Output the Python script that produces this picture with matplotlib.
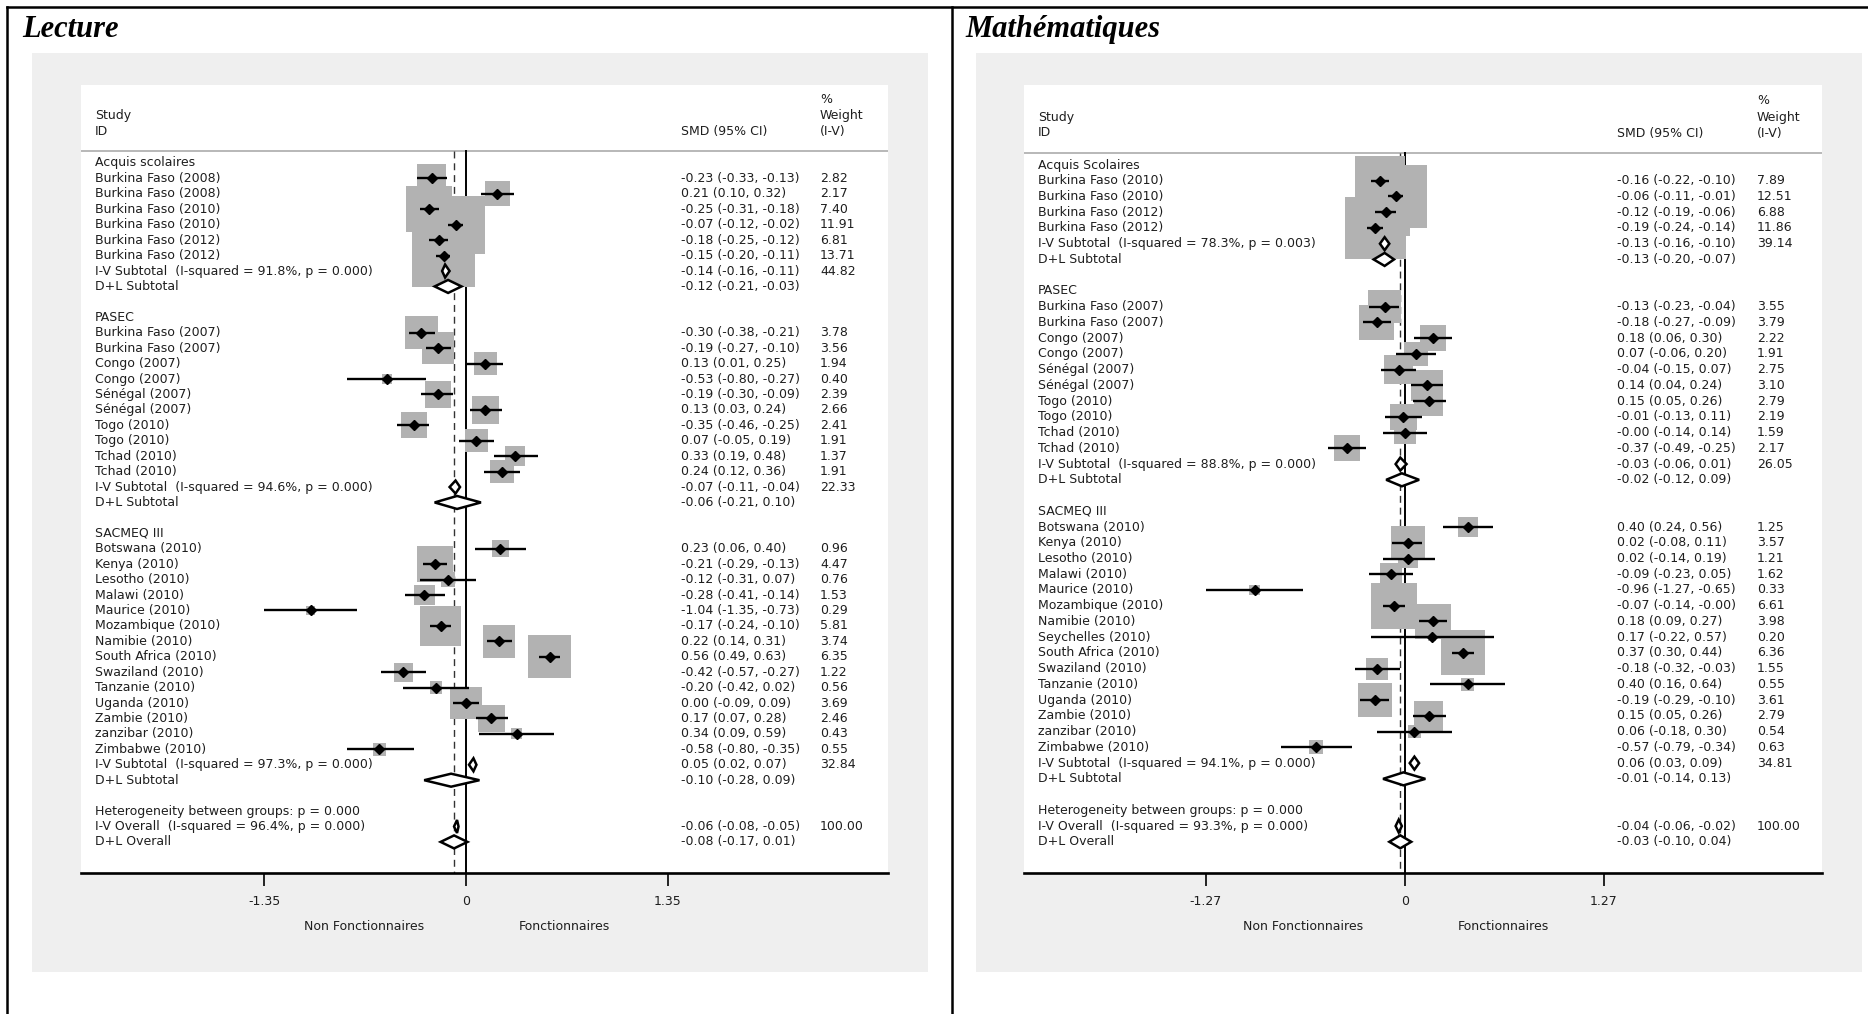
import matplotlib
matplotlib.use("Agg")
import matplotlib.pyplot as plt
from matplotlib.lines import Line2D
from matplotlib.patches import Rectangle, Polygon
from matplotlib.transforms import blended_transform_factory

W, H = 1868, 1014

# ---------------------------------------------------------------- Lecture data
LEC_GROUPS = ["Acquis scolaires", "PASEC", "SACMEQ III"]
LEC_STUDIES = [
    "Burkina Faso (2008)", "Burkina Faso (2008)", "Burkina Faso (2010)",
    "Burkina Faso (2010)", "Burkina Faso (2012)", "Burkina Faso (2012)",
    "Burkina Faso (2007)", "Burkina Faso (2007)", "Congo (2007)", "Congo (2007)",
    "Sénégal (2007)", "Sénégal (2007)", "Togo (2010)", "Togo (2010)",
    "Tchad (2010)", "Tchad (2010)",
    "Botswana (2010)", "Kenya (2010)", "Lesotho (2010)", "Malawi (2010)",
    "Maurice (2010)", "Mozambique (2010)", "Namibie (2010)", "South Africa (2010)",
    "Swaziland (2010)", "Tanzanie (2010)", "Uganda (2010)", "Zambie (2010)",
    "zanzibar (2010)", "Zimbabwe (2010)",
]
LEC_GROUP_OF = [0] * 6 + [1] * 10 + [2] * 14
LEC_EST = [-0.23, 0.21, -0.25, -0.07, -0.18, -0.15,
           -0.30, -0.19, 0.13, -0.53, -0.19, 0.13, -0.35, 0.07, 0.33, 0.24,
           0.23, -0.21, -0.12, -0.28, -1.04, -0.17, 0.22, 0.56, -0.42, -0.20,
           0.00, 0.17, 0.34, -0.58]
LEC_LO = [-0.33, 0.10, -0.31, -0.12, -0.25, -0.20,
          -0.38, -0.27, 0.01, -0.80, -0.30, 0.03, -0.46, -0.05, 0.19, 0.12,
          0.06, -0.29, -0.31, -0.41, -1.35, -0.24, 0.14, 0.49, -0.57, -0.42,
          -0.09, 0.07, 0.09, -0.80]
LEC_HI = [-0.13, 0.32, -0.18, -0.02, -0.12, -0.11,
          -0.21, -0.10, 0.25, -0.27, -0.09, 0.24, -0.25, 0.19, 0.48, 0.36,
          0.40, -0.13, 0.07, -0.14, -0.73, -0.10, 0.31, 0.63, -0.27, 0.02,
          0.09, 0.28, 0.59, -0.35]
LEC_W = [2.82, 2.17, 7.40, 11.91, 6.81, 13.71,
         3.78, 3.56, 1.94, 0.40, 2.39, 2.66, 2.41, 1.91, 1.37, 1.91,
         0.96, 4.47, 0.76, 1.53, 0.29, 5.81, 3.74, 6.35, 1.22, 0.56,
         3.69, 2.46, 0.43, 0.55]
LEC_IV_EST = [-0.14, -0.07, 0.05]
LEC_IV_LO = [-0.16, -0.11, 0.02]
LEC_IV_HI = [-0.11, -0.04, 0.07]
LEC_IV_W = [44.82, 22.33, 32.84]
LEC_ISQ = [91.8, 94.6, 97.3]
LEC_P = [0.000, 0.000, 0.000]
LEC_DL_EST = [-0.12, -0.06, -0.10]
LEC_DL_LO = [-0.21, -0.21, -0.28]
LEC_DL_HI = [-0.03, 0.10, 0.09]
LEC_HET_P = 0.000
LEC_OV_IV = [-0.06, -0.08, -0.05]
LEC_OV_W = 100.00
LEC_OV_ISQ = 96.4
LEC_OV_P = 0.000
LEC_OV_DL = [-0.08, -0.17, 0.01]
LEC_TICKS = [-1.35, 0, 1.35]
LEC_TICK_LABELS = ["-1.35", "0", "1.35"]

# ----------------------------------------------------------- Mathématiques data
MAT_GROUPS = ["Acquis Scolaires", "PASEC", "SACMEQ III"]
MAT_STUDIES = [
    "Burkina Faso (2010)", "Burkina Faso (2010)", "Burkina Faso (2012)",
    "Burkina Faso (2012)",
    "Burkina Faso (2007)", "Burkina Faso (2007)", "Congo (2007)", "Congo (2007)",
    "Sénégal (2007)", "Sénégal (2007)", "Togo (2010)", "Togo (2010)",
    "Tchad (2010)", "Tchad (2010)",
    "Botswana (2010)", "Kenya (2010)", "Lesotho (2010)", "Malawi (2010)",
    "Maurice (2010)", "Mozambique (2010)", "Namibie (2010)", "Seychelles (2010)",
    "South Africa (2010)", "Swaziland (2010)", "Tanzanie (2010)", "Uganda (2010)",
    "Zambie (2010)", "zanzibar (2010)", "Zimbabwe (2010)",
]
MAT_GROUP_OF = [0] * 4 + [1] * 10 + [2] * 15
MAT_EST = [-0.16, -0.06, -0.12, -0.19,
           -0.13, -0.18, 0.18, 0.07, -0.04, 0.14, 0.15, -0.01, -0.0, -0.37,
           0.40, 0.02, 0.02, -0.09, -0.96, -0.07, 0.18, 0.17, 0.37, -0.18,
           0.40, -0.19, 0.15, 0.06, -0.57]
MAT_LO = [-0.22, -0.11, -0.19, -0.24,
          -0.23, -0.27, 0.06, -0.06, -0.15, 0.04, 0.05, -0.13, -0.14, -0.49,
          0.24, -0.08, -0.14, -0.23, -1.27, -0.14, 0.09, -0.22, 0.30, -0.32,
          0.16, -0.29, 0.05, -0.18, -0.79]
MAT_HI = [-0.10, -0.01, -0.06, -0.14,
          -0.04, -0.09, 0.30, 0.20, 0.07, 0.24, 0.26, 0.11, 0.14, -0.25,
          0.56, 0.11, 0.19, 0.05, -0.65, -0.0, 0.27, 0.57, 0.44, -0.03,
          0.64, -0.10, 0.26, 0.30, -0.34]
MAT_W = [7.89, 12.51, 6.88, 11.86,
         3.55, 3.79, 2.22, 1.91, 2.75, 3.10, 2.79, 2.19, 1.59, 2.17,
         1.25, 3.57, 1.21, 1.62, 0.33, 6.61, 3.98, 0.20, 6.36, 1.55,
         0.55, 3.61, 2.79, 0.54, 0.63]
MAT_IV_EST = [-0.13, -0.03, 0.06]
MAT_IV_LO = [-0.16, -0.06, 0.03]
MAT_IV_HI = [-0.10, 0.01, 0.09]
MAT_IV_W = [39.14, 26.05, 34.81]
MAT_ISQ = [78.3, 88.8, 94.1]
MAT_P = [0.003, 0.000, 0.000]
MAT_DL_EST = [-0.13, -0.02, -0.01]
MAT_DL_LO = [-0.20, -0.12, -0.14]
MAT_DL_HI = [-0.07, 0.09, 0.13]
MAT_HET_P = 0.000
MAT_OV_IV = [-0.04, -0.06, -0.02]
MAT_OV_W = 100.00
MAT_OV_ISQ = 93.3
MAT_OV_P = 0.000
MAT_OV_DL = [-0.03, -0.10, 0.04]
MAT_TICKS = [-1.27, 0, 1.27]
MAT_TICK_LABELS = ["-1.27", "0", "1.27"]

# ------------------------------------------------------------------- layout
LAYOUT_LEC = dict(title="Lecture", title_x=22, gray=(32, 53, 928, 972),
                  white=(81, 85, 888, 873), zero_px=466, unit_px=149.3,
                  row0=163, rowh=15.43, label_x=95, smd_x=681, w_x=820,
                  k=16.9, head=(100, 116, 132, 151))
LAYOUT_MAT = dict(title="Mathématiques", title_x=965, gray=(976, 53, 1862, 972),
                  white=(1024, 85, 1822, 873), zero_px=1405, unit_px=156.7,
                  row0=165, rowh=15.74, label_x=1038, smd_x=1617, w_x=1757,
                  k=17.8, head=(101, 118, 133, 153))

TXT = "#1e1e1e"
FS = 9
BOX = "#b2b2b2"

fig = plt.figure(figsize=(W / 100, H / 100), dpi=100)
fig.patch.set_facecolor("white")


def ci_text(e, l, h):
    return f"{e:.2f} ({l:.2f}, {h:.2f})"


def draw_panel(L, groups, group_of, studies, est, lo, hi, w, iv_est, iv_lo, iv_hi,
               iv_w, isq, pv, dl_est, dl_lo, dl_hi, het_p, ov_iv, ov_w, ov_isq,
               ov_p, ov_dl, ticks, ticklabels):
    gl, gt, gr, gb = L["gray"]
    fig.add_artist(Rectangle((gl / W, 1 - gb / H), (gr - gl) / W, (gb - gt) / H,
                             transform=fig.transFigure, facecolor="#efefef",
                             edgecolor="none", zorder=-5))
    wl, wt, wr, wb = L["white"]
    ax = fig.add_axes([wl / W, 1 - wb / H, (wr - wl) / W, (wb - wt) / H])
    ax.set_facecolor("white")

    def px2x(px):
        return (px - L["zero_px"]) / L["unit_px"]

    def py2r(py):
        return (py - L["row0"]) / L["rowh"]

    x0, x1 = px2x(wl), px2x(wr)
    ybot = py2r(wb)
    ax.set_xlim(x0, x1)
    ax.set_ylim(ybot, py2r(wt))

    # row assignment
    r = 0
    labels = []
    s_rows = [0] * len(studies)
    iv_rows, dl_rows = [], []
    for g, name in enumerate(groups):
        labels.append((r, name))
        r += 1
        for i, gi in enumerate(group_of):
            if gi == g:
                s_rows[i] = r
                labels.append((r, studies[i]))
                r += 1
        iv_rows.append(r)
        dl_rows.append(r + 1)
        r += 3
    het_row, ov_iv_row, ov_dl_row = r, r + 1, r + 2

    lx, sx, wx = px2x(L["label_x"]), px2x(L["smd_x"]), px2x(L["w_x"])
    hp, hs, hi_, hl = L["head"]
    kw = dict(fontsize=FS, color=TXT, va="center", ha="left")

    # header
    ax.text(lx, py2r(hs), "Study", **kw)
    ax.text(lx, py2r(hi_), "ID", **kw)
    ax.text(sx, py2r(hi_), "SMD (95% CI)", **kw)
    ax.text(wx, py2r(hp), "%", **kw)
    ax.text(wx, py2r(hs), "Weight", **kw)
    ax.text(wx, py2r(hi_), "(I-V)", **kw)
    hy = py2r(hl)
    ax.plot([x0, x1], [hy, hy], color="#b8b8b8", lw=1.4, zorder=1, clip_on=False,
            solid_capstyle="butt")

    # reference lines
    ax.plot([0, 0], [hy, ybot], color="black", lw=1.4, zorder=1)
    ax.plot([ov_dl[0], ov_dl[0]], [hy, ybot], color="#333333", lw=1.0,
            dashes=(5, 3.5), zorder=1)

    # weight boxes
    c = (0.72 * L["k"]) ** 2
    ax.scatter(est, s_rows, s=[c * wi for wi in w], marker="s", color=BOX,
               linewidths=0, zorder=2)
    # CIs and point estimates
    ax.hlines(s_rows, lo, hi, color="black", lw=1.7, zorder=3)
    ax.plot(est, s_rows, linestyle="none", marker="D", ms=5, color="black",
            zorder=4)

    hh = 6.5 / L["rowh"]

    def diamond(e, l, h, row):
        ax.add_patch(Polygon([(l, row), (e, row - hh), (h, row), (e, row + hh)],
                             closed=True, facecolor="white", edgecolor="black",
                             lw=1.8, joinstyle="miter", zorder=5))

    # text columns for studies
    for row, t in labels:
        ax.text(lx, row, t, **kw)
    for i, row in enumerate(s_rows):
        ax.text(sx, row, ci_text(est[i], lo[i], hi[i]), **kw)
        ax.text(wx, row, f"{w[i]:.2f}", **kw)

    for g in range(len(groups)):
        diamond(iv_est[g], iv_lo[g], iv_hi[g], iv_rows[g])
        diamond(dl_est[g], dl_lo[g], dl_hi[g], dl_rows[g])
        ax.text(lx, iv_rows[g],
                f"I-V Subtotal  (I-squared = {isq[g]:.1f}%, p = {pv[g]:.3f})", **kw)
        ax.text(sx, iv_rows[g], ci_text(iv_est[g], iv_lo[g], iv_hi[g]), **kw)
        ax.text(wx, iv_rows[g], f"{iv_w[g]:.2f}", **kw)
        ax.text(lx, dl_rows[g], "D+L Subtotal", **kw)
        ax.text(sx, dl_rows[g], ci_text(dl_est[g], dl_lo[g], dl_hi[g]), **kw)

    ax.text(lx, het_row, f"Heterogeneity between groups: p = {het_p:.3f}", **kw)
    diamond(ov_iv[0], ov_iv[1], ov_iv[2], ov_iv_row)
    diamond(ov_dl[0], ov_dl[1], ov_dl[2], ov_dl_row)
    ax.text(lx, ov_iv_row,
            f"I-V Overall  (I-squared = {ov_isq:.1f}%, p = {ov_p:.3f})", **kw)
    ax.text(sx, ov_iv_row, ci_text(*ov_iv), **kw)
    ax.text(wx, ov_iv_row, f"{ov_w:.2f}", **kw)
    ax.text(lx, ov_dl_row, "D+L Overall", **kw)
    ax.text(sx, ov_dl_row, ci_text(*ov_dl), **kw)

    # axis
    for sp in ("top", "left", "right"):
        ax.spines[sp].set_visible(False)
    ax.spines["bottom"].set_linewidth(1.9)
    ax.spines["bottom"].set_color("black")
    ax.set_yticks([])
    ax.set_xticks(ticks)
    ax.set_xticklabels(ticklabels)
    ax.tick_params(axis="x", direction="out", length=9.4, width=1.2, pad=6.5,
                   labelsize=FS, labelcolor=TXT, color="black")

    trans = blended_transform_factory(ax.transData, fig.transFigure)
    ax.text(px2x(L["zero_px"] - 102), 1 - 927 / H, "Non Fonctionnaires",
            transform=trans, fontsize=FS, color=TXT, ha="center", va="center")
    ax.text(px2x(L["zero_px"] + 98), 1 - 927 / H, "Fonctionnaires",
            transform=trans, fontsize=FS, color=TXT, ha="center", va="center")

    fig.text(L["title_x"] / W, 1 - 37 / H, L["title"], fontsize=22,
             family="Liberation Serif", fontweight="bold", fontstyle="italic",
             va="baseline", ha="left", color="black")


draw_panel(LAYOUT_LEC, LEC_GROUPS, LEC_GROUP_OF, LEC_STUDIES, LEC_EST, LEC_LO,
           LEC_HI, LEC_W, LEC_IV_EST, LEC_IV_LO, LEC_IV_HI, LEC_IV_W, LEC_ISQ,
           LEC_P, LEC_DL_EST, LEC_DL_LO, LEC_DL_HI, LEC_HET_P, LEC_OV_IV,
           LEC_OV_W, LEC_OV_ISQ, LEC_OV_P, LEC_OV_DL, LEC_TICKS, LEC_TICK_LABELS)
draw_panel(LAYOUT_MAT, MAT_GROUPS, MAT_GROUP_OF, MAT_STUDIES, MAT_EST, MAT_LO,
           MAT_HI, MAT_W, MAT_IV_EST, MAT_IV_LO, MAT_IV_HI, MAT_IV_W, MAT_ISQ,
           MAT_P, MAT_DL_EST, MAT_DL_LO, MAT_DL_HI, MAT_HET_P, MAT_OV_IV,
           MAT_OV_W, MAT_OV_ISQ, MAT_OV_P, MAT_OV_DL, MAT_TICKS, MAT_TICK_LABELS)

# outer frame lines
fig.add_artist(Line2D([7 / W, 1.0], [1 - 7 / H, 1 - 7 / H], color="black", lw=1.8,
                      transform=fig.transFigure, zorder=10))
fig.add_artist(Line2D([7 / W, 7 / W], [1 - 7 / H, 0.0], color="black", lw=1.8,
                      transform=fig.transFigure, zorder=10))
fig.add_artist(Line2D([952 / W, 952 / W], [1 - 7 / H, 0.0], color="black", lw=1.8,
                      transform=fig.transFigure, zorder=10))

fig.savefig("out.png", dpi=100, facecolor="white")
